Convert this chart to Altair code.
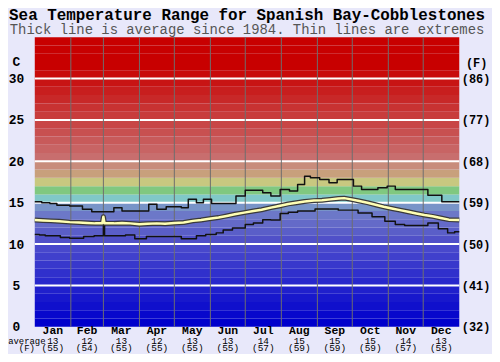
import altair as alt
import pandas as pd

# ---------------- data ----------------
MONTHS = ["Jan", "Feb", "Mar", "Apr", "May", "Jun",
          "Jul", "Aug", "Sep", "Oct", "Nov", "Dec"]
MONTH_DAYS = [31, 28, 31, 30, 31, 30, 31, 31, 30, 31, 30, 31]
AVG_C_LABEL = ["13", "12", "13", "12", "13", "13", "14", "15", "15", "15", "14", "13"]
AVG_F_LABEL = ["(55)", "(54)", "(55)", "(55)", "(55)", "(55)",
               "(57)", "(59)", "(59)", "(59)", "(57)", "(55)"]

# extremes (step lines) : day of year, degC
MAX_DAY = [0, 6, 13, 19, 30, 41, 49, 68, 75, 98, 105, 113, 126, 132, 139, 145,
           152, 173, 181, 196, 203, 211, 219, 226, 232, 237, 245, 253, 260, 274,
           281, 295, 303, 310, 338, 350, 365]
MAX_C = [15.1, 15.0, 14.9, 14.7, 14.6, 14.2, 13.9, 14.4, 14.0, 14.8, 14.2, 14.5,
         14.4, 15.4, 15.0, 15.4, 14.9, 15.8, 16.5, 16.2, 15.8, 16.6, 16.4, 17.2,
         18.2, 18.0, 17.8, 17.4, 17.8, 17.0, 16.6, 16.8, 17.0, 16.6, 15.9, 15.1,
         15.1]

MIN_DAY = [0, 4, 9, 22, 30, 42, 51, 59, 60, 78, 86, 96, 120, 126, 139, 147, 156,
           162, 170, 181, 188, 196, 203, 211, 218, 226, 241, 261, 278, 290, 301,
           310, 318, 338, 347, 355, 361, 365]
MIN_C = [11.15, 11.1, 11.0, 10.8, 10.7, 10.9, 11.0, 12.4, 11.0, 11.1, 10.65, 10.9,
         10.9, 10.65, 11.0, 11.15, 11.35, 11.7, 11.95, 12.35, 12.55, 12.95, 12.9,
         13.7, 13.85, 14.0, 14.25, 14.1, 13.75, 13.3, 12.75, 12.35, 12.25, 12.55,
         11.85, 11.35, 11.5, 11.5]

AVG_DAY = [0, 7, 14, 21, 30, 38, 45, 52, 58, 59, 60, 68, 75, 82, 90, 97, 105, 112,
           120, 128, 136, 143, 150, 158, 165, 172, 180, 188, 195, 203, 210, 218,
           225, 232, 240, 247, 254, 261, 266, 272, 279, 286, 293, 300, 307, 314,
           321, 328, 335, 342, 349, 356, 365]
AVG_C = [12.9, 12.85, 12.8, 12.75, 12.65, 12.6, 12.55, 12.5, 12.5, 13.3, 12.5,
         12.5, 12.55, 12.5, 12.4, 12.45, 12.5, 12.45, 12.55, 12.6, 12.8, 12.9,
         13.05, 13.2, 13.4, 13.6, 13.8, 14.0, 14.15, 14.4, 14.6, 14.85, 15.0,
         15.15, 15.25, 15.3, 15.4, 15.5, 15.55, 15.4, 15.2, 15.0, 14.75, 14.5,
         14.3, 14.1, 13.9, 13.7, 13.5, 13.35, 13.15, 12.95, 12.9]

# background colour bands, one per degree (0..35)
BAND_COLORS = ["#0000cc", "#0808cc", "#1010cc", "#1818cc", "#2020cc", "#2828cc",
               "#3030cc", "#3838cc", "#4040cc", "#4848cc", "#5050c8", "#5a5ec8",
               "#646ac8", "#6c78c8", "#7894c8", "#80c8c8", "#80c880", "#c8c880",
               "#c8a07c", "#c88c7c", "#c86e6e", "#c86464", "#c85a5a", "#c85050",
               "#c84646", "#c83c3c", "#c83232", "#c82828", "#c81e1e", "#c81414",
               "#c80a0a", "#c80000", "#c80000", "#c80000", "#c80000"]
GRID_C = [5, 10, 15, 20, 25, 30]
TICKS_C = [0, 5, 10, 15, 20, 25, 30]
SIDE_LABEL = "average\n(F)"

# ---------------- tables ----------------
bounds = [0]
for d in MONTH_DAYS:
    bounds.append(bounds[-1] + d)
mid = [(bounds[i] + bounds[i + 1]) / 2 for i in range(12)]

bands_df = pd.DataFrame({"lo": list(range(35)), "hi": list(range(1, 36)),
                         "color": BAND_COLORS})
grid_df = pd.DataFrame({"t": GRID_C})
vline_df = pd.DataFrame({"d": bounds[1:-1]})
max_df = pd.DataFrame({"day": MAX_DAY, "c": MAX_C})
min_df = pd.DataFrame({"day": MIN_DAY, "c": MIN_C})
avg_df = pd.DataFrame({"day": AVG_DAY, "c": AVG_C})
lab_df = pd.DataFrame({"mid": mid, "month": MONTHS,
                       "cf": [c + "\n" + f for c, f in zip(AVG_C_LABEL, AVG_F_LABEL)]})
side_df = pd.DataFrame({"label": [SIDE_LABEL]})

W, H = 428, 292
FONT = "Liberation Mono"
xs = alt.Scale(domain=[0, 365], nice=False, zero=False)
ys = alt.Scale(domain=[0, 35], nice=False, zero=False)

left_axis = alt.Axis(orient="left", values=TICKS_C, ticks=False, tickSize=0,
                     domain=False, grid=False, labelFont=FONT, labelFontSize=13,
                     labelFontWeight="bold", labelColor="black",
                     labelAlign="center", labelBaseline="middle", labelPadding=19,
                     title="C", titleAngle=0, titleX=-19, titleY=25,
                     titleAlign="center", titleBaseline="middle", titleFont=FONT,
                     titleFontSize=13, titleFontWeight="bold", titleColor="black")
right_axis = alt.Axis(orient="right", values=TICKS_C, ticks=False, tickSize=0,
                      domain=False, grid=False, labelFont=FONT, labelFontSize=12,
                      labelFontWeight="bold", labelColor="black",
                      labelAlign="left", labelBaseline="middle", labelPadding=2,
                      labelExpr="'(' + format(datum.value * 9 / 5 + 32, 'd') + ')'",
                      title="(F)", titleAngle=0, titleX=17, titleY=26,
                      titleAlign="center", titleBaseline="middle", titleFont=FONT,
                      titleFontSize=12, titleFontWeight="bold", titleColor="black")

bands = alt.Chart(bands_df).mark_rect().encode(
    x=alt.value(0), x2=alt.value(W),
    y=alt.Y("lo:Q", scale=ys, axis=left_axis),
    y2="hi:Q",
    color=alt.Color("color:N", scale=None),
)

grid = alt.Chart(grid_df).mark_rule(color="white", strokeWidth=2).encode(
    y=alt.Y("t:Q", scale=ys, axis=right_axis),
)

vlines = alt.Chart(vline_df).mark_rule(color="#6e6e6e", strokeWidth=1).encode(
    x=alt.X("d:Q", scale=xs, axis=None),
)


def line(df, color, width, interp):
    return alt.Chart(df).mark_line(color=color, strokeWidth=width,
                                   interpolate=interp, strokeJoin="round").encode(
        x=alt.X("day:Q", scale=xs, axis=None),
        y=alt.Y("c:Q", scale=ys, axis=None),
    )


max_line = line(max_df, "#111111", 1.5, "step-after")
min_line = line(min_df, "#111111", 1.5, "step-after")
avg_outline = line(avg_df, "#3a3a3a", 5, "linear")
avg_inner = line(avg_df, "#ffffb4", 2.5, "linear")

month_txt = alt.Chart(lab_df).mark_text(font=FONT, fontSize=11.5, fontWeight="bold",
                                        color="black", baseline="alphabetic").encode(
    x=alt.X("mid:Q", scale=xs, axis=None), y=alt.value(H + 7.5), text="month:N")
cf_txt = alt.Chart(lab_df).mark_text(font=FONT, fontSize=9.5, color="black",
                                     baseline="alphabetic", lineBreak="\n",
                                     lineHeight=7.5).encode(
    x=alt.X("mid:Q", scale=xs, axis=None), y=alt.value(H + 17), text="cf:N")
side_txt = alt.Chart(side_df).mark_text(font=FONT, fontSize=9, color="black",
                                        baseline="alphabetic", align="center",
                                        lineBreak="\n", lineHeight=7.5).encode(
    x=alt.value(-8), y=alt.value(H + 17), text="label:N")

chart = alt.layer(
    bands, grid, vlines, max_line, min_line, avg_outline, avg_inner,
    month_txt, cf_txt, side_txt,
).resolve_axis(y="independent").properties(
    width=W, height=H,
    autosize=alt.AutoSizeParams(type="none"),
    padding={"left": 27, "top": 28, "right": 33, "bottom": 26},
    background="#e8e8fa",
    title=alt.TitleParams(
        text="Sea Temperature Range for Spanish Bay-Cobblestones",
        subtitle="Thick line is average since 1984. Thin lines are extremes",
        font=FONT, fontSize=16, fontWeight="bold", color="black",
        subtitleFont=FONT, subtitleFontSize=14, subtitleColor="#555555",
        anchor="middle", offset=0, subtitlePadding=0,
    ),
).configure_view(strokeWidth=0)

chart.save("out.html", embed_options={"renderer": "svg", "actions": False})
